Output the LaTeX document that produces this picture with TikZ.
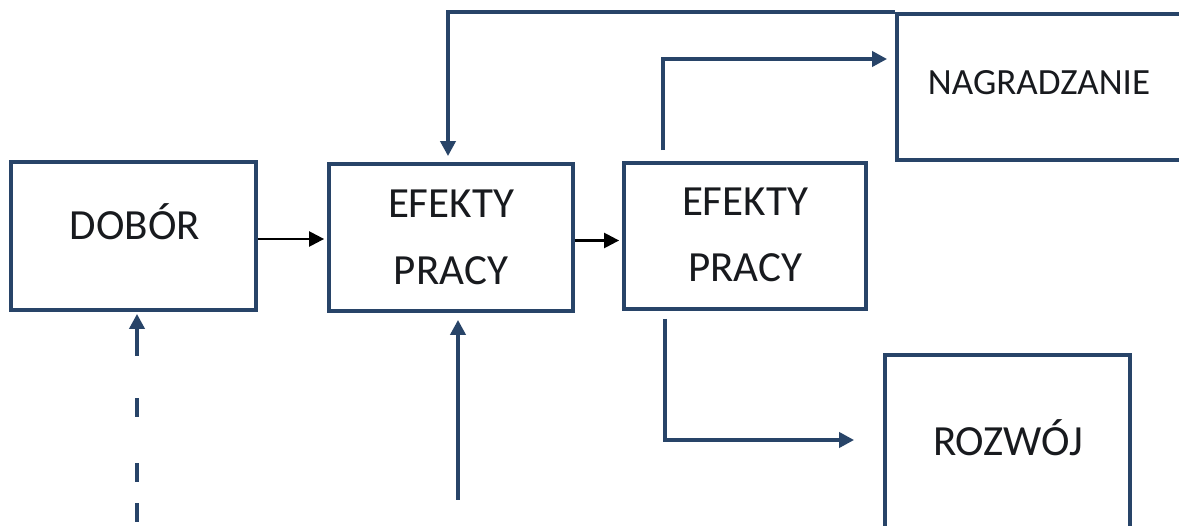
\documentclass[tikz,border=0pt]{standalone}
\usepackage{fontspec}
\setmainfont{Carlito}
\usetikzlibrary{arrows.meta}
\definecolor{frameblue}{RGB}{40,68,104}
\definecolor{inkdark}{RGB}{24,26,30}
\begin{document}
\begin{tikzpicture}[x=1pt,y=-1pt,
  box/.style={draw=frameblue, line width=3.8pt, fill=white, inner sep=0pt, rectangle},
  lbl/.style={inner sep=0pt, text=inkdark, font=\fontsize{43}{50}\selectfont,
              text height=27.7pt, text depth=0pt},
  flow/.style={draw=frameblue, line width=4pt,
               -{Triangle[length=15pt,width=15pt]}},
  link/.style={draw=black, line width=2.4pt,
               -{Triangle[length=15pt,width=15pt]}}]

\fill[white] (0,0) rectangle (1179,526);
\useasboundingbox (0,0) rectangle (1179,526);

% boxes
\node[box, minimum width=245pt, minimum height=148pt] (dobor) at (133.5,236) {};
\node[box, minimum width=244pt, minimum height=147pt] (ef1) at (451,237.5) {};
\node[box, minimum width=242pt, minimum height=146pt] (ef2) at (745,236) {};
\node[box, minimum width=293pt, minimum height=146pt] (nag) at (1043.5,87) {};
\node[box, minimum width=245pt, minimum height=176pt] (roz) at (1007.5,443) {};

% labels
\node[lbl] (doborT) at (135,226) {DOBÓR};
\node[lbl] (ef1a) at (451,204) {EFEKTY};
\node[lbl] (ef1b) at (451,271) {PRACY};
\node[lbl] (ef2a) at (745,202) {EFEKTY};
\node[lbl] (ef2b) at (745,268) {PRACY};
\node[lbl, font=\fontsize{37}{42}\selectfont, text height=23.8pt] (nagT) at (1039,83) {NAGRADZANIE};
\node[lbl] (rozT) at (1008,442) {ROZWÓJ};

% main chain
\coordinate (outA) at ([yshift=-3pt]dobor.east);
\coordinate (outB) at ([yshift=-3pt]ef1.east);
\draw[link, shorten >=3pt] (outA) -- (outA -| ef1.west);
\draw[link, shorten >=3pt] (outB) -- (outB -| ef2.west);

% feedback from rewards back to performance
\draw[flow, shorten >=6pt] (nag.north west) -| ([xshift=-3pt]ef1.north);

% outcomes of performance
\draw[flow, shorten <=11pt, shorten >=8pt] ([xshift=-82pt]ef2.north) |- ([yshift=28pt]nag.west);
\draw[flow, shorten <=8pt, shorten >=29pt] ([xshift=-80pt]ef2.south) |- ([yshift=3pt]roz.west);

% inputs from below
\coordinate (perf) at (458,500);
\draw[flow, shorten >=7pt] (perf) -- (perf |- ef1.south);

\coordinate (sel) at (137,522);
\draw[flow, shorten >=2pt,
      dash pattern=on 19pt off 21pt on 19pt off 46pt on 19pt off 42pt on 200pt]
      (sel) -- (sel |- dobor.south);
\end{tikzpicture}
\end{document}
